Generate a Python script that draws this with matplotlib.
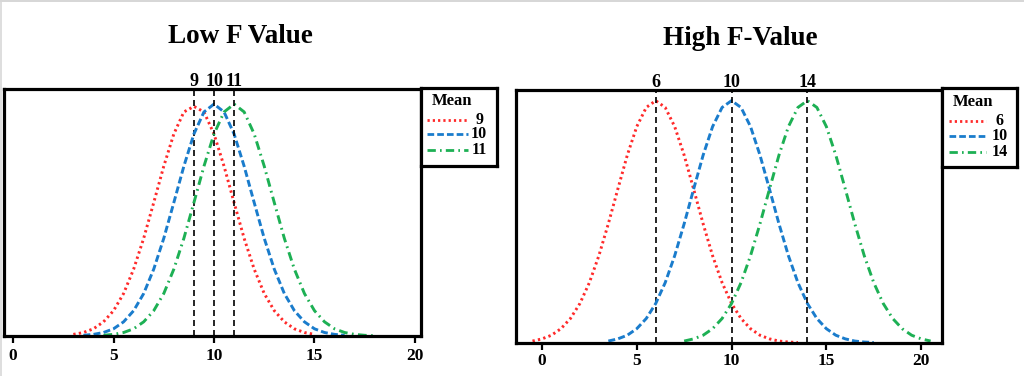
# Два графіки нормальних розподілів: низьке і високе значення F.

import matplotlib
matplotlib.use("Agg")
import matplotlib.pyplot as plt
import numpy as np
from matplotlib.lines import Line2D

plt.rcParams["font.family"] = ["Liberation Serif", "DejaVu Serif"]
plt.rcParams["font.weight"] = "bold"

# --- дані (висоти кривих, крок по x = 0.5) ---
LOW_TITLE = "Low F Value"
HIGH_TITLE = "High F-Value"
LOW_MEANS = [9, 10, 11]
HIGH_MEANS = [6, 10, 14]
TICKS = [0, 5, 10, 15, 20]

LOW_START = [3.0, 3.5, 4.5]
LOW_CURVES = [
    [0.007, 0.015, 0.031, 0.061, 0.109, 0.183, 0.288, 0.421, 0.575, 0.732, 0.871, 0.966, 0.99,
     0.966, 0.871, 0.732, 0.575, 0.421, 0.288, 0.183, 0.109, 0.061, 0.031, 0.015, 0.007],
    [0.003, 0.007, 0.015, 0.031, 0.061, 0.109, 0.183, 0.288, 0.421, 0.575, 0.732, 0.871, 0.966, 1.0,
     0.966, 0.871, 0.732, 0.575, 0.421, 0.288, 0.183, 0.109, 0.061, 0.031, 0.015, 0.007, 0.003],
    [0.003, 0.007, 0.015, 0.031, 0.061, 0.109, 0.183, 0.288, 0.421, 0.575, 0.732, 0.871, 0.966, 1.0,
     0.966, 0.871, 0.732, 0.575, 0.421, 0.288, 0.183, 0.109, 0.061, 0.031, 0.015, 0.007, 0.003, 0.001],
]

HIGH_START = [-0.5, 3.5, 7.5]
HIGH_CURVES = [
    [0.008, 0.017, 0.032, 0.059, 0.101, 0.163, 0.249, 0.360, 0.492, 0.635, 0.775, 0.893, 0.972, 1.0,
     0.972, 0.893, 0.775, 0.635, 0.492, 0.360, 0.249, 0.163, 0.101, 0.059, 0.032, 0.017, 0.008, 0.004, 0.002],
    [0.008, 0.017, 0.032, 0.059, 0.101, 0.163, 0.249, 0.360, 0.492, 0.635, 0.775, 0.893, 0.972, 1.0,
     0.972, 0.893, 0.775, 0.635, 0.492, 0.360, 0.249, 0.163, 0.101, 0.059, 0.032, 0.017, 0.008, 0.004, 0.002],
    [0.008, 0.017, 0.032, 0.059, 0.101, 0.163, 0.249, 0.360, 0.492, 0.635, 0.775, 0.893, 0.972, 1.0,
     0.972, 0.893, 0.775, 0.635, 0.492, 0.360, 0.249, 0.163, 0.101, 0.059, 0.032, 0.017, 0.008],
]

# --- стилі ---
COLORS = ["#ff2a2a", "#1a7ccc", "#1db054"]
STYLES = [(0, (0.8, 1.1)), (0, (2.4, 1.1)), (0, (3.0, 1.5, 0.6, 1.5))]
SPINE_W = 2.3

fig = plt.figure(figsize=(10.24, 3.76), dpi=100)
W, H = 1024, 376


def frect(x0, y0, x1, y1):
    """Прямокутник у пікселях (зверху вниз) -> координати фігури."""
    return [x0 / W, 1 - y1 / H, (x1 - x0) / W, (y1 - y0) / H]


def draw_panel(rect, xlim, ylim, means, starts, curves, label_pad):
    ax = fig.add_axes(rect)
    for m, x0, y, c, ls in zip(means, starts, curves, COLORS, STYLES):
        x = x0 + 0.5 * np.arange(len(y))
        ax.plot(x, y, color=c, lw=2.1, linestyle=ls)
        ax.axvline(m, color="black", lw=1.2, linestyle=(0, (3.6, 2.4)))
        ax.annotate(str(m), xy=(m, 1), xycoords=("data", "axes fraction"),
                    xytext=(0, 3), textcoords="offset pixels",
                    ha="center", va="baseline", fontsize=13, fontweight="bold")
    ax.set_xlim(*xlim)
    ax.set_ylim(*ylim)
    ax.set_yticks([])
    ax.set_xticks(TICKS)
    ax.tick_params(axis="x", direction="out", length=5, width=1.6, pad=label_pad,
                   labelsize=12.5)
    for s in ax.spines.values():
        s.set_linewidth(SPINE_W)
    return ax


def draw_legend(rect, means, title_xy, x_line, rows, x_lab):
    lg = fig.add_axes(rect)
    lg.set_xlim(0, 1)
    lg.set_ylim(0, 1)
    lg.set_xticks([])
    lg.set_yticks([])
    for s in lg.spines.values():
        s.set_linewidth(SPINE_W)
    lg.text(title_xy[0], title_xy[1], "Mean", ha="center", va="center",
            fontsize=12, fontweight="bold")
    for m, y, c, ls in zip(means, rows, COLORS, STYLES):
        lg.add_line(Line2D(x_line, [y, y], color=c, lw=2.0, linestyle=ls))
        lg.text(x_lab, y, str(m), ha="center", va="center", fontsize=11.5,
                fontweight="bold")


draw_panel(frect(4, 89, 421, 336), (-0.45, 20.3), (0, 1.065),
           LOW_MEANS, LOW_START, LOW_CURVES, 4.0)
draw_legend(frect(421, 88, 497, 166), LOW_MEANS, (0.41, 0.83),
            [0.08, 0.62], [0.59, 0.41, 0.20], 0.765)

draw_panel(frect(516, 90, 942, 343), (-1.37, 21.1), (0, 1.044),
           HIGH_MEANS, HIGH_START, HIGH_CURVES, 2.0)
draw_legend(frect(942, 88, 1017, 167), HIGH_MEANS, (0.41, 0.82),
            [0.09, 0.59], [0.58, 0.39, 0.195], 0.77)

fig.text(240 / W, 1 - 43 / H, LOW_TITLE, ha="center", va="baseline",
         fontsize=19.5, fontweight="bold")
fig.text(740 / W, 1 - 45 / H, HIGH_TITLE, ha="center", va="baseline",
         fontsize=19.5, fontweight="bold")

# світло-сіра рамка скриншота зверху і зліва
fig.add_artist(Line2D([0, 1], [1 - 0.5 / H, 1 - 0.5 / H], color="#d0d0d0", lw=1.2,
                      transform=fig.transFigure))
fig.add_artist(Line2D([0.5 / W, 0.5 / W], [0, 1], color="#d8d8d8", lw=1.2,
                      transform=fig.transFigure))

fig.savefig("out.png", dpi=100)
